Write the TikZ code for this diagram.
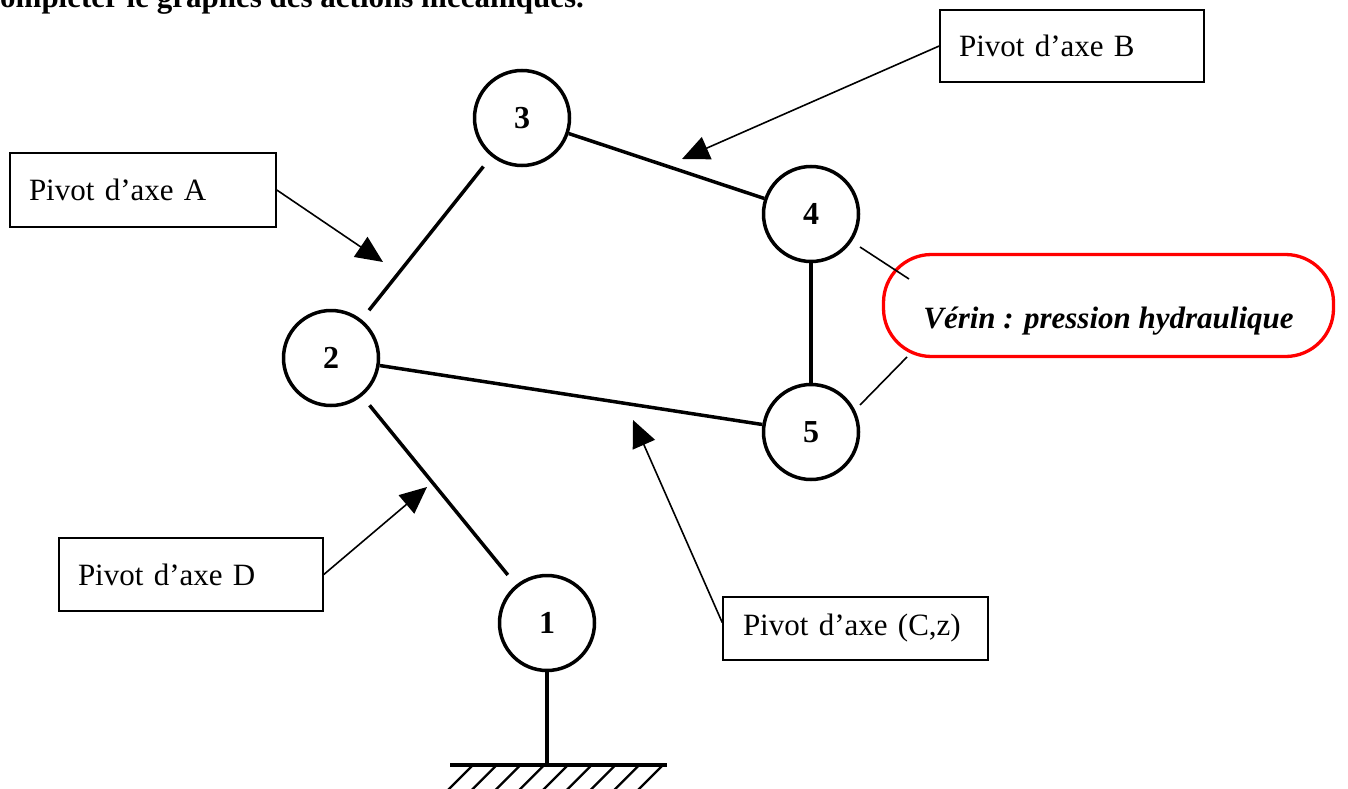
\documentclass[tikz,border=0pt]{standalone}
\usepackage{fontspec}
\setmainfont{Liberation Serif}
\usetikzlibrary{arrows.meta}
\begin{document}
\begin{tikzpicture}[x=1pt,y=-1pt,
  part/.style={circle,draw,line width=3.5pt,minimum size=95pt,inner sep=0pt,font=\fontsize{32}{36}\selectfont\bfseries},
  link/.style={line width=3.5pt},
  gap/.style={shorten <=61pt,shorten >=62pt},
  labelbox/.style={draw,line width=1.6pt,inner xsep=19pt,inner ysep=0pt,align=left,font=\fontsize{31}{36}\selectfont},
  pointer/.style={line width=1.6pt,-{Triangle[length=27pt,width=24pt]}},
  thinline/.style={line width=1.6pt},
  verin/.style={draw=red,line width=3.3pt,rounded corners=48pt,minimum width=450pt,minimum height=102pt,inner sep=0pt,text height=50pt,text depth=5pt,font=\fontsize{31}{36}\selectfont\bfseries\itshape}]
\useasboundingbox (0,0) rectangle (1348,789);
\fill[white] (0,0) rectangle (1348,789);

% title (cut off by the page edge, as in the reference)
\node[anchor=base west,inner sep=0pt,font=\fontsize{31}{36}\selectfont\bfseries] (title) at (-22.4,7.5) {Compléter le graphes des actions mécaniques.};

% parts
\node[part] (n3) at (522,118) {3};
\node[part] (n4) at (811,214) {4};
\node[part] (n2) at (331,358) {2};
\node[part] (n5) at (811,432) {5};
\node[part] (n1) at (547,623) {1};

% links
\draw[link] (n3) -- (n4);
\draw[link] (n4) -- (n5);
\draw[link] (n2) -- (n5);
\draw[link,gap] (n2.center) -- (n3.center);
\draw[link,gap] (n2.center) -- (n1.center);

% ground
\coordinate (g) at (547,765);
\draw[link] (n1) -- (g);
\coordinate (gl) at (450,765);
\coordinate (gr) at (667,765);
\draw[link] (gl) -- (gr);
\foreach \i in {0,...,8}
  \draw[line width=2.4pt] (473+23.75*\i,765) -- ++(-25,25);

% label boxes
\node[labelbox,text width=226pt,minimum height=72pt] (bB) at (1072,46) {Pivot d’axe B};
\node[labelbox,text width=228pt,minimum height=74pt] (bA) at (143,190) {Pivot d’axe A};
\node[labelbox,text width=226pt,minimum height=73pt] (bD) at (191,574.5) {\raisebox{-3pt}{Pivot d’axe D}};
\node[labelbox,text width=225pt,minimum height=63pt,inner xsep=20pt] (bC) at (855.5,628.5) {\raisebox{5pt}{Pivot d’axe (C,z)}};

% pointers
\coordinate (tA) at (383,262);
\coordinate (tB) at (682,159);
\coordinate (tD) at (427,487);
\coordinate (tC) at (633,420);
\draw[pointer] (bA.east) -- (tA);
\draw[pointer] (bB.west) -- (tB);
\draw[pointer] (bD.east) -- (tD);
\draw[pointer] ([yshift=6pt]bC.west) -- (tC);

% verin
\node[verin] (v) at (1108.5,305.5) {Vérin : pression hydraulique};
\coordinate (vA1) at (860,247);
\coordinate (vA2) at (909,279);
\coordinate (vB1) at (860,405);
\coordinate (vB2) at (907,357);
\draw[thinline] (vA1) -- (vA2);
\draw[thinline] (vB1) -- (vB2);
\end{tikzpicture}
\end{document}
